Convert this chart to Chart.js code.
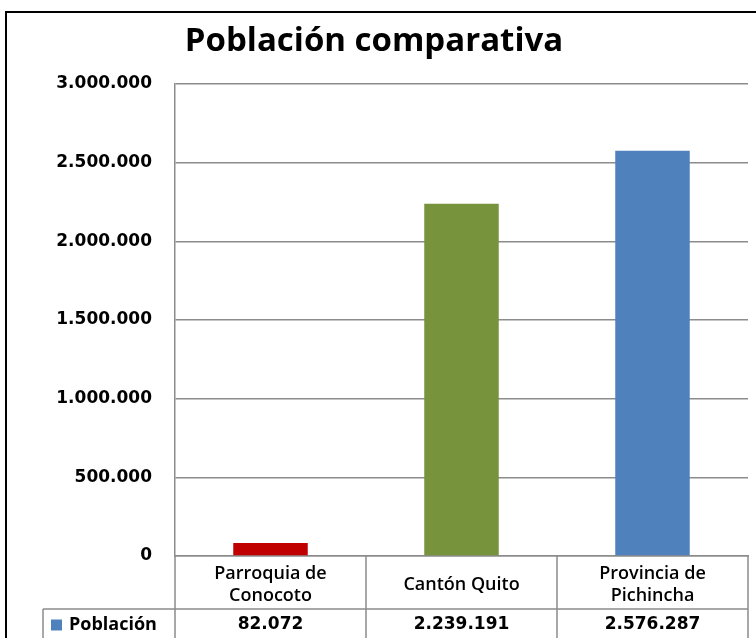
<!DOCTYPE html>
<html>
<head>
<meta charset="utf-8">
<script src="https://cdn.jsdelivr.net/npm/chart.js@4.4.0/dist/chart.umd.min.js"></script>
<style>
html, body { margin: 0; padding: 0; background: #fff; overflow: hidden; }
#wrap { width: 756px; height: 638px; position: relative; }
</style>
</head>
<body>
<div id="wrap"><canvas id="chart"></canvas></div>
<script>
// data
const categories = [['Parroquia de', 'Conocoto'], ['Cantón Quito'], ['Provincia de', 'Pichincha']];
const seriesName = 'Población';
const poblacion = [82072, 2239191, 2576287];
const barColors = ['#C00000', '#77933C', '#4F81BD'];
const yMax = 3000000;
const yStep = 500000;

const lineGray = '#8c8c8c';
const numFont = 'bold 17px "DejaVu Sans"';
const textFont = '600 18px "Open Sans"';

// 2239191 -> 2.239.191
function fmt(v) {
    return String(v).replace(/\B(?=(\d{3})+(?!\d))/g, '.');
}

// outer frame of the chart object
const framePlugin = {
    id: 'frame',
    beforeDraw(chart) {
        const ctx = chart.ctx;
        ctx.save();
        ctx.strokeStyle = '#000';
        ctx.lineWidth = 2;
        ctx.strokeRect(6, 12, 800, 700);
        ctx.restore();
    }
};

// data table under the x axis
const tablePlugin = {
    id: 'dataTable',
    afterDraw(chart) {
        const ctx = chart.ctx;
        const area = chart.chartArea;
        const x = chart.scales.x;
        const top = area.bottom;
        const mid = top + 53;
        const bottom = chart.height;
        const legendLeft = 43;

        // column edges
        const edges = [area.left];
        for (let i = 1; i < categories.length; i++) {
            edges.push((x.getPixelForValue(i - 1) + x.getPixelForValue(i)) / 2);
        }
        edges.push(area.right);

        ctx.save();
        ctx.strokeStyle = lineGray;
        ctx.lineWidth = 1.5;
        ctx.beginPath();
        for (const e of edges) {
            ctx.moveTo(e, top);
            ctx.lineTo(e, bottom);
        }
        ctx.moveTo(legendLeft, mid);
        ctx.lineTo(area.right, mid);
        ctx.moveTo(legendLeft, mid);
        ctx.lineTo(legendLeft, bottom);
        ctx.stroke();

        ctx.textAlign = 'center';
        ctx.textBaseline = 'middle';
        ctx.fillStyle = '#000';

        // category labels
        ctx.font = textFont;
        const lineH = 22;
        categories.forEach((lab, i) => {
            const cx = x.getPixelForValue(i);
            const cy = (top + mid) / 2 + 2;
            const y0 = cy - (lab.length - 1) * lineH / 2;
            lab.forEach((t, j) => ctx.fillText(t, cx, y0 + j * lineH));
        });

        // values row
        const rowY = (mid + bottom) / 2 + 1;
        ctx.font = numFont;
        poblacion.forEach((v, i) => {
            ctx.fillText(fmt(v), x.getPixelForValue(i), rowY);
        });

        // legend key + series name
        ctx.fillStyle = barColors[2];
        ctx.fillRect(51, rowY - 5, 11, 11);
        ctx.fillStyle = '#000';
        ctx.textAlign = 'left';
        ctx.font = 'bold 18px "Open Sans"';
        ctx.fillText(seriesName, 69, rowY);
        ctx.restore();
    }
};

new Chart(document.getElementById('chart'), {
    type: 'bar',
    data: {
        labels: categories,
        datasets: [{
            label: seriesName,
            data: poblacion,
            backgroundColor: barColors,
            borderWidth: 0,
            categoryPercentage: 1,
            barPercentage: 0.39,
        }]
    },
    options: {
        responsive: true,
        maintainAspectRatio: false,
        animation: false,
        layout: {
            padding: { left: 0, right: 8, top: 0, bottom: 29 }
        },
        scales: {
            x: {
                ticks: { display: false },
                grid: { display: false },
                border: { color: lineGray, width: 1.5 },
                afterFit(scale) { scale.height = 53; },
            },
            y: {
                min: 0,
                max: yMax,
                ticks: {
                    stepSize: yStep,
                    color: '#000',
                    padding: 23,
                    font: { family: 'DejaVu Sans', size: 17, weight: 'bold' },
                    callback: (v) => fmt(v),
                },
                grid: {
                    color: lineGray,
                    lineWidth: 1.5,
                    drawTicks: false,
                },
                border: { color: lineGray, width: 1.5 },
                afterFit(scale) { scale.width = 175; },
            }
        },
        plugins: {
            legend: { display: false },
            tooltip: { enabled: false },
            title: {
                display: true,
                text: 'Población comparativa',
                color: '#000',
                font: { family: 'Open Sans', size: 33, weight: 'bold' },
                padding: { top: 22, bottom: 22.4 },
            }
        }
    },
    plugins: [framePlugin, tablePlugin]
});
</script>
</body>
</html>
